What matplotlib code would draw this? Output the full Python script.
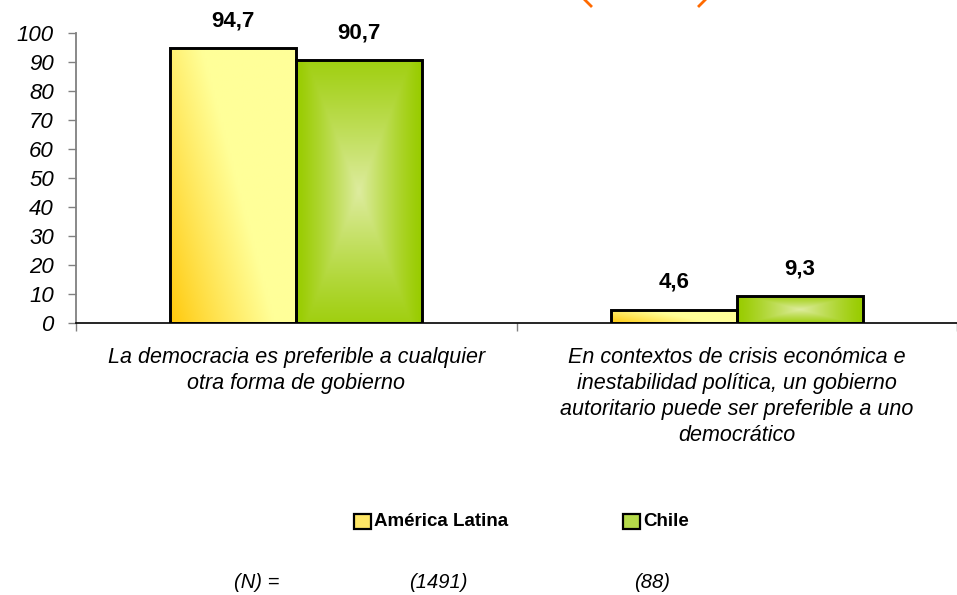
import numpy as np
import matplotlib.pyplot as plt
from matplotlib.patches import Rectangle
from matplotlib.lines import Line2D

plt.rcParams['font.family'] = ['Liberation Sans', 'DejaVu Sans']

# data
categories = ['La democracia es preferible a cualquier\notra forma de gobierno',
              'En contextos de crisis económica e\ninestabilidad política, un gobierno\n'
              'autoritario puede ser preferible a uno\ndemocrático']
series = ['América Latina', 'Chile']
latam = [94.7, 4.6]
chile = [90.7, 9.3]
n_labels = ['(N) =', '(1491)', '(88)']
yticks = list(range(0, 101, 10))


def fmt(v):
    return f'{v:.1f}'.replace('.', ',')


def yellow_grad(nx=60, ny=200):
    xf = np.linspace(0, 1, nx)[None, :]
    yf = np.linspace(0, 1, ny)[:, None]
    t = np.clip(1.2 * xf + 0.7 * yf, 0, 1) ** 0.9
    dark = np.array([255, 200, 10]) / 255
    light = np.array([255, 255, 153]) / 255
    return dark + (light - dark) * t[..., None]


def green_grad(nx=60, ny=200):
    xf = np.linspace(-1, 1, nx)[None, :]
    yf = np.linspace(-1, 1, ny)[:, None]
    d = np.maximum(np.abs(xf), np.abs(yf) * 0.85)
    t = np.clip(1 - d, 0, 1) ** 1.2
    edge = np.array([153, 204, 0]) / 255
    center = np.array([222, 236, 160]) / 255
    return edge + (center - edge) * t[..., None]


fig = plt.figure(figsize=(9.57, 5.95), dpi=100)
W, H = 957, 595
ax = fig.add_axes([76 / W, (H - 323) / H, (957 - 76) / W, 290 / H])

x = np.arange(len(categories))
bw = 0.286
b1 = ax.bar(x - bw / 2, latam, bw, facecolor='none', edgecolor='black', linewidth=2.1, zorder=3)
b2 = ax.bar(x + bw / 2, chile, bw, facecolor='none', edgecolor='black', linewidth=2.1, zorder=3)

for bars, grad in ((b1, yellow_grad), (b2, green_grad)):
    for p in bars:
        x0, w, h = p.get_x(), p.get_width(), p.get_height()
        im = ax.imshow(grad(), extent=[x0, x0 + w, 0, h], origin='lower',
                       aspect='auto', zorder=2, interpolation='bilinear')
        im.set_clip_path(p)

for bars, vals in ((b1, latam), (b2, chile)):
    for p, v in zip(bars, vals):
        ax.annotate(fmt(v), (p.get_x() + p.get_width() / 2, v), xytext=(0, 12),
                    textcoords='offset points', ha='center', va='bottom',
                    fontsize=16, fontweight='bold')

ax.set_xlim(-0.5, -0.5 + (957 - 76) / 447)
ax.set_ylim(0, 100)
ax.set_yticks(yticks)
ax.set_yticklabels([str(t) for t in yticks], fontsize=16, style='italic')
ax.tick_params(axis='y', length=6, width=1, color='#808080', pad=10)

ax.set_xticks([-0.5, 0.5, 1.5])
ax.set_xticklabels([])
ax.tick_params(axis='x', which='major', length=6, width=1, color='#808080')
ax.set_xticks(x, minor=True)
ax.set_xticklabels(categories, minor=True, fontsize=15.5, style='italic', linespacing=1.32)
ax.tick_params(axis='x', which='minor', length=0, pad=17)
for lbl in ax.get_xticklabels(minor=True):
    lbl.set_va('top')

for s in ('top', 'right'):
    ax.spines[s].set_visible(False)
ax.spines['left'].set_color('#808080')
ax.spines['left'].set_linewidth(1.3)
ax.spines['bottom'].set_color('black')
ax.spines['bottom'].set_linewidth(1.2)

# legend
leg_x = [354, 623]
leg_cols = ['#FFE766', '#B5DA4A']
for lx, col, name in zip(leg_x, leg_cols, series):
    fig.patches.append(Rectangle((lx / W, (H - 529) / H), 17 / W, 15 / H,
                                 transform=fig.transFigure, facecolor=col,
                                 edgecolor='black', linewidth=1.6))
    fig.text((lx + 20) / W, (H - 521) / H, name, fontsize=13.5, fontweight='bold',
             va='center', ha='left')

# sample sizes
for nx, txt in zip([257, 438, 652], n_labels):
    fig.text(nx / W, (H - 583) / H, txt, fontsize=14.5, style='italic',
             ha='center', va='center')

# clipped logo fragments at top
for (xa, ya), (xb, yb) in (((585, 0), (591, 6)), ((705, 0), (699, 6))):
    fig.lines.append(Line2D([xa / W, xb / W], [(H - ya) / H, (H - yb) / H],
                            transform=fig.transFigure, color='#FF6A00', linewidth=2))

fig.savefig('out.png', dpi=100)
